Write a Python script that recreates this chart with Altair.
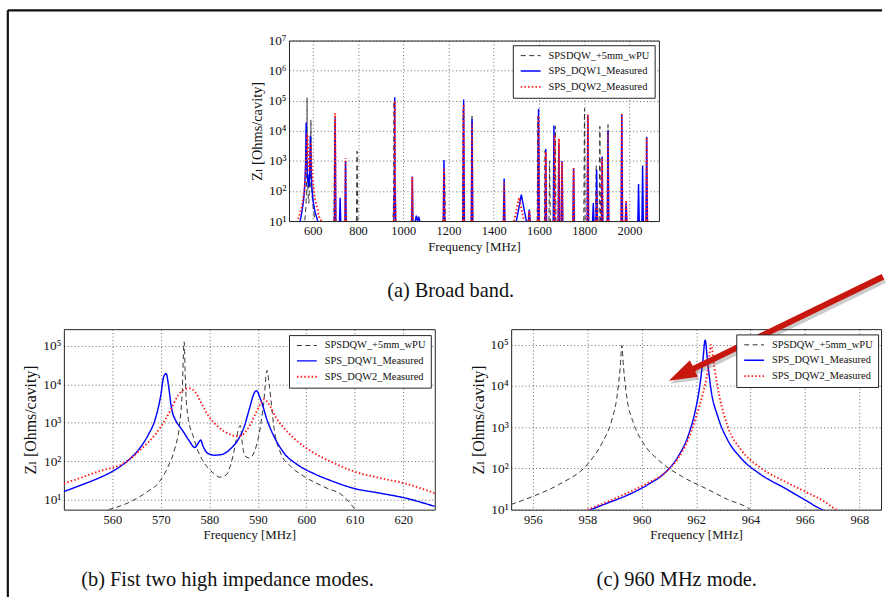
import altair as alt
import pandas as pd

FONT = "'Liberation Serif', 'Times New Roman', 'DejaVu Serif', serif"
INK = "#111111"

SERIES = ["SPSDQW_+5mm_wPU", "SPS_DQW1_Measured", "SPS_DQW2_Measured"]
COLORS = ["#333333", "#0000ff", "#ff1a1a"]
DASHES = [[5, 3.5], [1, 0], [1.5, 2.2]]
WIDTHS = [1.0, 1.9, 1.5]

# ---------------- (b) first two high impedance modes ----------------
b_black_f = [559.2, 564.0, 567.4, 569.5, 571.5, 572.9, 573.9, 574.4, 574.8, 575.1, 575.6, 576.7,
             577.7, 579.0, 580.8, 582.1, 583.5, 584.5, 585.3, 586.0, 586.4, 586.8, 587.3, 588.3,
             589.3, 590.3, 591.2, 591.9, 592.4, 593.4, 594.7, 596.8, 599.5, 603.6, 607.7, 610.1]
b_black_z = [5.6, 9.3, 17, 27.5, 74, 220, 980, 5900, 127000, 8700, 1450, 440,
             180, 90, 50, 39, 45, 90, 245, 700, 850, 300, 140, 122,
             180, 540, 3200, 23000, 8700, 660, 165, 74, 41, 22, 12.4, 5.6]

b_blue_f = [550.0, 553.8, 557.2, 560.0, 563.0, 565.4, 567.4, 568.8, 570.0, 570.6, 571.1, 571.6,
            572.1, 573.2, 573.9, 574.6, 575.8, 577.0, 577.7, 578.2, 578.7, 579.6, 581.1, 582.5,
            584.5, 585.9, 587.2, 588.3, 589.3, 589.7, 590.6, 592.0, 593.4, 595.4, 598.2, 601.6,
            605.0, 609.8, 615.2, 620.0, 626.5]
b_blue_z = [16.5, 25, 37, 55, 100, 200, 490, 1200, 5300, 16000, 19000, 9000,
            2900, 1070, 800, 600, 350, 230, 295, 360, 250, 165, 145, 150,
            220, 360, 800, 2400, 6100, 6800, 4000, 1100, 430, 165, 82, 48,
            32, 20, 15, 11.5, 6.8]

b_red_f = [550.0, 557.2, 563.0, 566.1, 568.8, 570.9, 572.2, 573.6, 575.0, 576.0, 577.0, 578.4,
           579.7, 581.8, 584.5, 585.9, 587.2, 588.6, 589.6, 590.6, 591.3, 592.4, 593.7, 595.4,
           598.2, 601.6, 605.0, 609.8, 615.2, 620.0, 626.5]
b_red_z = [26.5, 55, 100, 220, 490, 1200, 2400, 5300, 7400, 7900, 6500, 3200,
           1600, 800, 490, 440, 540, 980, 1800, 3200, 4100, 2900, 1400, 730,
           330, 165, 100, 55, 37, 27.5, 15]

# ---------------- (c) 960 MHz mode ----------------
c_black_f = [955.2, 956.0, 956.96, 958.05, 958.54, 958.9, 959.09, 959.21, 959.27, 959.33, 959.45,
             959.7, 960.06, 960.6, 961.46, 962.43, 963.16, 963.89, 964.1]
c_black_z = [13.4, 21, 41, 136, 410, 1500, 5500, 29000, 96000, 29000, 5500,
             1250, 410, 163, 65, 31, 17.7, 11.2, 9.0]

c_blue_f = [958.0, 958.78, 959.51, 960.24, 960.85, 961.34, 961.7, 961.95, 962.13, 962.25, 962.33,
            962.43, 962.55, 962.8, 963.16, 963.65, 964.38, 965.35, 966.08, 966.57, 966.8]
c_blue_z = [9.3, 14.8, 23, 41, 78, 195, 600, 2200, 9600, 42000, 130000,
            35000, 8000, 1800, 490, 178, 71, 31, 16, 10.5, 9.0]

c_red_f = [958.0, 958.78, 959.51, 960.24, 960.85, 961.34, 961.7, 962.0, 962.25, 962.43, 962.55,
           962.67, 962.86, 963.16, 963.65, 964.38, 965.35, 966.08, 966.8, 967.05, 967.3]
c_red_z = [10, 16, 26, 45, 78, 178, 490, 1800, 6600, 24000, 100000,
           29000, 5500, 1050, 285, 103, 45, 26, 14.5, 11, 9.0]

# ---------------- (a) broad band: resonance spikes (centre, peak, half width) ----------------
a_black_f = [697, 796, 1183, 1265, 1304, 1595, 1627, 1647, 1672, 1801, 1853, 1869, 1905]
a_black_z = [2.0e4, 2.1e3, 4.0e2, 5.0e4, 3.1e4, 3.0e4, 2.2e3, 1.0e3, 1.4e4, 5.5e4, 7.0e2, 1.4e4, 1.6e4]
a_black_w = [3, 3, 3, 3, 3, 3, 3, 3, 3, 3, 3, 3, 3]

a_blue_f = [699, 721, 745, 1040, 1058, 1068, 1180, 1267, 1304, 1446, 1522, 1557, 1598, 1630,
            1666, 1688, 1702, 1753, 1816, 1840, 1855, 1879, 1905, 1966, 1985, 2040, 2058, 2076]
a_blue_z = [2.6e4, 60, 1.0e3, 300, 15, 14, 1.07e3, 1.1e5, 2.5e4, 260, 75, 24, 5.4e4, 2.5e3,
            1.5e4, 4.0e3, 1.0e3, 570, 3.3e4, 40, 500, 1.4e3, 1.0e4, 3.5e4, 40, 170, 700, 6.3e3]
a_blue_w = [3, 2.5, 2.5, 2.5, 5, 5, 3, 3, 3, 3, 22, 4, 3, 3,
            3, 3, 3, 3, 3, 3, 3, 3, 3, 3, 3, 3, 3, 3]

a_red_f = [699, 745, 1040, 1180, 1267, 1304, 1446, 1512, 1557, 1598, 1630, 1669, 1688, 1702,
           1753, 1816, 1855, 1879, 1905, 1966, 1985, 2076]
a_red_z = [3.8e4, 1.25e3, 290, 550, 7.5e4, 1.8e4, 200, 60, 22, 3.2e4, 2.0e3, 7.5e3, 5.5e3, 900,
           560, 3.5e4, 100, 1.2e3, 9.0e3, 3.6e4, 50, 6.0e3]
a_red_w = [3, 3, 3, 3, 3, 3, 3, 22, 4, 3, 3, 3, 3, 3,
           3, 3, 3, 3, 3, 3, 3, 3]

# tails of the 575 MHz group visible only in the broad-band view
a_blue_tail_f = [543]
a_blue_tail_z = [9]
a_red_tail_f = [531, 640]
a_red_tail_z = [9, 9]

# ---------------- ticks ----------------
a_xticks = [600, 800, 1000, 1200, 1400, 1600, 1800, 2000]
a_yticks = [10, 100, 1e3, 1e4, 1e5, 1e6, 1e7]
a_ylabels = ["10¹", "10²", "10³", "10⁴", "10⁵", "10⁶", "10⁷"]
b_xticks = [560, 570, 580, 590, 600, 610, 620]
c_xticks = [956, 958, 960, 962, 964, 966, 968]
bc_yticks = [10, 100, 1e3, 1e4, 1e5]
bc_ylabels = ["10¹", "10²", "10³", "10⁴", "10⁵"]

# ---------------- annotation arrow (in panel (c) data units) ----------------
arrow_tail = (968.87, 4.5e6)
arrow_shaft_end = (961.65, 2.18e4)
arrow_tip = (961.0, 1.35e4)
ARROW_ANGLE = 154
ARROW_RED = "#c8170e"

FLOOR = 10


def curve(series, fs, zs, seg):
    return [{"series": series, "f": f, "z": z, "seg": seg} for f, z in zip(fs, zs)]


def spikes(series, fs, zs, ws, tag):
    rows = []
    for i, (f, z, w) in enumerate(zip(fs, zs, ws)):
        seg = f"{tag}{i}"
        rows += [{"series": series, "f": f - w, "z": FLOOR, "seg": seg},
                 {"series": series, "f": f, "z": z, "seg": seg},
                 {"series": series, "f": f + w, "z": FLOOR, "seg": seg}]
    return rows


df_b = pd.DataFrame(curve(SERIES[0], b_black_f, b_black_z, "k")
                    + curve(SERIES[1], b_blue_f, b_blue_z, "b")
                    + curve(SERIES[2], b_red_f, b_red_z, "r"))
df_c = pd.DataFrame(curve(SERIES[0], c_black_f, c_black_z, "k")
                    + curve(SERIES[1], c_blue_f, c_blue_z, "b")
                    + curve(SERIES[2], c_red_f, c_red_z, "r"))
df_a = pd.DataFrame(
    curve(SERIES[0], b_black_f, b_black_z, "kb")
    + curve(SERIES[0], c_black_f, c_black_z, "kc")
    + spikes(SERIES[0], a_black_f, a_black_z, a_black_w, "ks")
    + curve(SERIES[1], a_blue_tail_f + b_blue_f, a_blue_tail_z + b_blue_z, "bb")
    + curve(SERIES[1], c_blue_f, c_blue_z, "bc")
    + spikes(SERIES[1], a_blue_f, a_blue_z, a_blue_w, "bs")
    + curve(SERIES[2], a_red_tail_f[:1] + b_red_f + a_red_tail_f[1:],
            a_red_tail_z[:1] + b_red_z + a_red_tail_z[1:], "rb")
    + curve(SERIES[2], c_red_f, c_red_z, "rc")
    + spikes(SERIES[2], a_red_f, a_red_z, a_red_w, "rs")
)


def label_expr(vals, labels):
    expr = "''"
    for v, l in reversed(list(zip(vals, labels))):
        expr = f"abs(datum.value - {v}) < {v * 1e-6} ? '{l}' : {expr}"
    return expr


def x_axis(vals):
    return alt.Axis(values=vals, format="d", title="Frequency [MHz]", grid=True,
                    gridDash=[1, 2.5], gridColor="#222222", gridWidth=0.8, gridOpacity=0.85,
                    ticks=False, domain=False, labelFont=FONT, labelFontSize=12.5,
                    labelColor=INK, labelPadding=4, labelFlush=False, titleFont=FONT,
                    titleFontSize=13, titleFontWeight="normal", titleColor=INK, titlePadding=3)


def y_axis(vals, labels, tsize):
    return alt.Axis(values=vals, labelExpr=label_expr(vals, labels),
                    title="Zₗ [Ohms/cavity]", grid=True, gridDash=[1, 2.5],
                    gridColor="#222222", gridWidth=0.8, gridOpacity=0.85, ticks=False,
                    domain=False, labelFont=FONT, labelFontSize=13.5, labelColor=INK,
                    labelPadding=3, labelFlush=False, titleFont=FONT, titleFontSize=tsize,
                    titleFontWeight="normal", titleColor=INK, titlePadding=4)


LEG_LINE = "M-2,0 L2,0"


def lines(df, xdom, ydom, xticks, yticks, ylabels, tsize, lx, ly, interp):
    leg = alt.Legend(orient="none", legendX=lx, legendY=ly, title=None,
                     strokeColor="#222222", fillColor="white", padding=5,
                     symbolType=LEG_LINE, symbolSize=100, symbolOffset=7,
                     labelFont=FONT, labelFontSize=10.5, labelColor=INK, rowPadding=4,
                     labelOffset=12, labelLimit=300)
    return alt.Chart(df).mark_line(clip=True, interpolate=interp).encode(
        x=alt.X("f:Q", scale=alt.Scale(domain=xdom, nice=False, zero=False),
                axis=x_axis(xticks)),
        y=alt.Y("z:Q", scale=alt.Scale(type="log", domain=ydom, nice=False),
                axis=y_axis(yticks, ylabels, tsize)),
        color=alt.Color("series:N", scale=alt.Scale(domain=SERIES, range=COLORS), legend=leg),
        strokeDash=alt.StrokeDash("series:N", scale=alt.Scale(domain=SERIES, range=DASHES),
                                  legend=leg),
        strokeWidth=alt.StrokeWidth("series:N", scale=alt.Scale(domain=SERIES, range=WIDTHS),
                                    legend=leg),
        detail="seg:N",
    )


def caption(text, dx):
    return alt.TitleParams(text=text, orient="bottom", anchor="middle", frame="group",
                           dx=dx, offset=28, font=FONT, fontSize=20.5,
                           fontWeight="normal", color=INK)


one = pd.DataFrame({"v": [0]})

# page frame (decoration), drawn relative to the spacer at the top-left
frame = alt.layer(
    alt.Chart(one).mark_rule(clip=False, color="#111111", strokeWidth=2.2).encode(
        x=alt.value(-56.5), y=alt.value(-30.5), y2=alt.value(561)),
    alt.Chart(one).mark_rule(clip=False, color="#111111", strokeWidth=2.2).encode(
        x=alt.value(-56.5), x2=alt.value(825), y=alt.value(-30.5)),
)

spacer = alt.layer(
    alt.Chart(one).mark_point(opacity=0).encode(
        x=alt.X("v:Q", axis=None), y=alt.Y("v:Q", axis=None)),
    frame,
).properties(width=227, height=182, view=alt.ViewBackground(stroke="transparent"))

pa = lines(df_a, [495, 2130], [10, 1e7], a_xticks, a_yticks, a_ylabels, 14.5, 225.7, 4.7,
           "linear").properties(width=373, height=182, title=caption("(a) Broad band.", -23.5))

pb = lines(df_b, [550, 626.5], [5.6, 2.7e5], b_xticks, bc_yticks, bc_ylabels, 16, 227, 6,
           "monotone").properties(width=374, height=182,
                                  title=caption("(b) Fist two high impedance modes.", -22))

arrow_df = pd.DataFrame({"f": [arrow_tail[0]], "z": [arrow_tail[1]],
                         "f2": [arrow_shaft_end[0]], "z2": [arrow_shaft_end[1]]})
tip_df = pd.DataFrame({"f": [arrow_tip[0]], "z": [arrow_tip[1]]})
HEAD = "M0,0 L-1,-0.33 L-1,0.33 Z"

arrow = alt.layer(
    alt.Chart(arrow_df).mark_rule(clip=False, color="#555555", opacity=0.3, strokeWidth=7,
                                  xOffset=1.5, yOffset=3, x2Offset=1.5, y2Offset=3).encode(
        x="f:Q", y="z:Q", x2="f2:Q", y2="z2:Q"),
    alt.Chart(tip_df).mark_point(clip=False, shape=HEAD, size=3136, angle=ARROW_ANGLE,
                                 filled=True, color="#555555", opacity=0.3,
                                 xOffset=1.5, yOffset=3).encode(x="f:Q", y="z:Q"),
    alt.Chart(arrow_df).mark_rule(clip=False, color=ARROW_RED, strokeWidth=6).encode(
        x="f:Q", y="z:Q", x2="f2:Q", y2="z2:Q"),
    alt.Chart(tip_df).mark_point(clip=False, shape=HEAD, size=3136, angle=ARROW_ANGLE,
                                 filled=True, color=ARROW_RED, opacity=1,
                                 strokeWidth=0).encode(x="f:Q", y="z:Q"),
)

pc = alt.layer(
    lines(df_c, [955.2, 968.8], [10, 2.4e5], c_xticks, bc_yticks, bc_ylabels, 16, 227, 5.3,
          "monotone"),
    arrow,
).properties(width=373, height=182, title=caption("(c) 960 MHz mode.", -19.5))

RES = dict(x="independent", y="independent", color="independent",
           strokeDash="independent", strokeWidth="independent")
LRES = dict(color="independent", strokeDash="independent", strokeWidth="independent")

top = alt.hconcat(spacer, pa, spacing=0, bounds="flush").resolve_scale(**RES).resolve_legend(**LRES)
bottom = alt.hconcat(pb, pc, spacing=77, bounds="flush").resolve_scale(**RES).resolve_legend(**LRES)

# the nested top row counts as zero height in a flush layout, so the
# spacing covers the top panel height (182) plus the gap (109)
chart = alt.vconcat(top, bottom, spacing=291, bounds="flush").resolve_scale(
    **RES).resolve_legend(**LRES).properties(
    padding={"left": 5.4, "top": 5.4, "right": 0, "bottom": 0},
    background="white",
).configure_view(stroke="#222222", strokeWidth=1)

chart.save("out.html", embed_options={"renderer": "svg", "actions": False})
